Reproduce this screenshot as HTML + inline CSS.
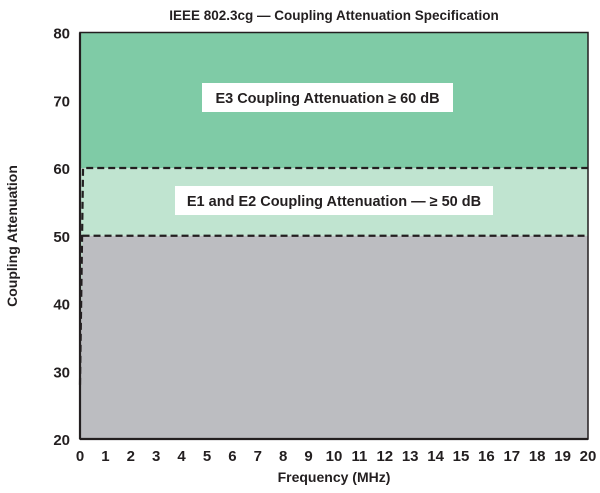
<!DOCTYPE html>
<html><head><meta charset="utf-8"><style>
body{margin:0;background:#fff;width:600px;height:488px;overflow:hidden}
svg text{font-family:"Liberation Sans",sans-serif;font-weight:bold;fill:#231f20}
</style></head><body>
<svg id="c" width="600" height="488"></svg>
<script>
const xTicks=[0,1,2,3,4,5,6,7,8,9,10,11,12,13,14,15,16,17,18,19,20];
const yTicks=[20,30,40,50,60,70,80];
const limitX=[0,0.12,20];
const limitY=[28,60,60];
const e1X=[0.1,20];
const e1Y=[50,50];
const thresholds=[50,60];
const title="IEEE 802.3cg — Coupling Attenuation Specification";
const NS="http://www.w3.org/2000/svg";
const svg=document.getElementById('c');
const X0=80,X1=588,Y0=439,Y1=32.5;
const x=v=>X0+(v-0)/(20-0)*(X1-X0);
const y=v=>Y0-(v-20)/(80-20)*(Y0-Y1);
function mk(t,a,p){const e=document.createElementNS(NS,t);for(const k in a)e.setAttribute(k,a[k]);(p||svg).appendChild(e);return e;}
let r;
r=mk('rect',{x:X0,y:y(80),width:X1-X0,height:y(thresholds[1])-y(80),fill:'#7fcba6'});


r=mk('rect',{x:X0,y:y(thresholds[1]),width:X1-X0,height:y(thresholds[0])-y(thresholds[1]),fill:'#c0e4d0'});


r=mk('rect',{x:X0,y:y(thresholds[0]),width:X1-X0,height:Y0-y(thresholds[0]),fill:'#bcbdc1'});


r=mk('polygon',{points:`${X0},${y(limitY[0])} ${x(e1X[0])},${y(e1Y[0])} ${X0},${y(e1Y[0])}`,fill:'#c0e4d0'});


mk('rect',{x:X0,y:y(80),width:X1-X0,height:Y0-y(80),fill:'none',stroke:'#231f20','stroke-width':1.5});
let p=mk('polyline',{points:limitX.map((v,i)=>x(v)+','+y(limitY[i])).join(' '),fill:'none',stroke:'#231f20','stroke-width':2.2,'stroke-dasharray':'7,4'});


p=mk('polyline',{points:e1X.map((v,i)=>x(v)+','+y(e1Y[i])).join(' '),fill:'none',stroke:'#231f20','stroke-width':2.2,'stroke-dasharray':'7,4'});


mk('line',{x1:X0,y1:y(80),x2:X0,y2:Y0,stroke:'#231f20','stroke-width':2.2});
mk('line',{x1:X0,y1:Y0,x2:X1,y2:Y0,stroke:'#231f20','stroke-width':2.2});
xTicks.forEach(v=>{const t=mk('text',{x:x(v),y:461,'text-anchor':'middle','font-size':15});t.textContent=v;

});
yTicks.forEach(v=>{const t=mk('text',{x:70,y:y(v)+6,'text-anchor':'end','font-size':15});t.textContent=v;

});
let t=mk('text',{x:334,y:20,'text-anchor':'middle','font-size':13.5});t.textContent=title;


t=mk('text',{x:334,y:482,'text-anchor':'middle','font-size':14});t.textContent='Frequency (MHz)';


t=mk('text',{x:0,y:0,'text-anchor':'middle','font-size':14,transform:'translate(17,236) rotate(-90)'});t.textContent='Coupling Attenuation';


r=mk('rect',{x:202,y:83,width:251,height:29,fill:'#fff'});


t=mk('text',{x:327.5,y:103,'text-anchor':'middle','font-size':14.5});t.textContent='E3 Coupling Attenuation ≥ 60 dB';


r=mk('rect',{x:175,y:186,width:318,height:29,fill:'#fff'});


t=mk('text',{x:334,y:206,'text-anchor':'middle','font-size':14.5});t.textContent='E1 and E2 Coupling Attenuation — ≥ 50 dB';


</script>
</body></html>
